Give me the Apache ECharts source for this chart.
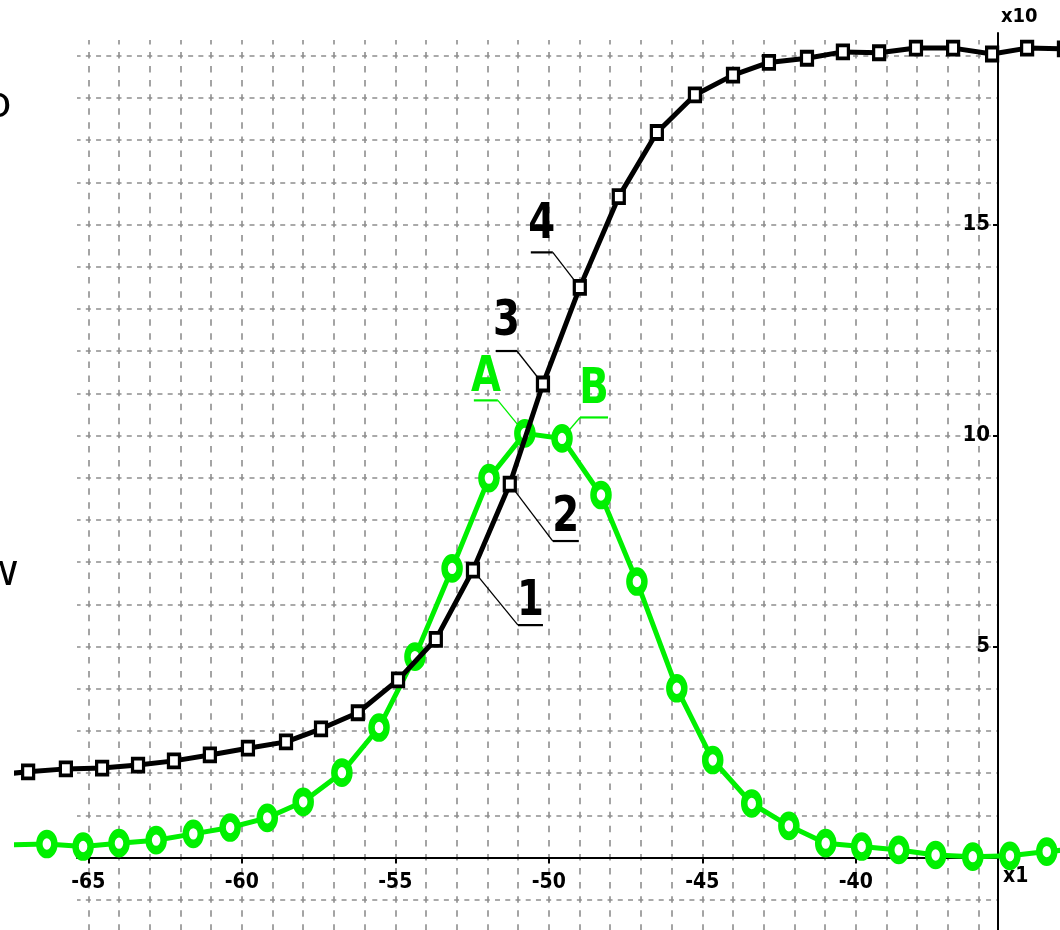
<!DOCTYPE html>
<html>
<head>
<meta charset="utf-8">
<script src="https://cdn.jsdelivr.net/npm/echarts@6/dist/echarts.min.js"></script>
<style>
  html, body { margin: 0; padding: 0; background: #ffffff; }
  #chart { width: 1060px; height: 930px; }
</style>
</head>
<body>
<div id="chart"></div>
<script>
// ---- data -------------------------------------------------------------
// Black curve (square markers), values on the x10 scale
const blackX = [-68.17, -66.96, -65.73, -64.55, -63.38, -62.21, -61.04, -59.80, -58.56, -57.42,
                -56.22, -54.91, -53.68, -52.47, -51.27, -50.19, -48.99, -47.72, -46.48, -45.24,
                -44.00, -42.83, -41.59, -40.42, -39.24, -38.04, -36.83, -35.56, -34.42, -33.22];
const blackY = [1.95, 2.03, 2.10, 2.12, 2.19, 2.29, 2.43, 2.59, 2.74, 3.05,
                3.43, 4.21, 5.17, 6.81, 8.85, 11.22, 13.51, 15.66, 17.18, 18.07,
                18.54, 18.84, 18.94, 19.09, 19.07, 19.18, 19.18, 19.04, 19.18, 19.16];

// Green curve (circle markers)
const greenX = [-67.55, -66.35, -65.17, -64.00, -62.79, -61.58, -60.38, -59.17, -58.00, -56.74,
                -55.53, -54.36, -53.15, -51.95, -50.78, -49.57, -48.30, -47.13, -45.83, -44.66,
                -43.39, -42.18, -40.98, -39.81, -38.60, -37.40, -36.19, -34.98, -33.78, -32.58];
const greenY = [0.30, 0.32, 0.26, 0.34, 0.41, 0.56, 0.71, 0.94, 1.32, 2.01,
                3.08, 4.76, 6.85, 8.99, 10.05, 9.93, 8.59, 6.54, 4.01, 2.31,
                1.28, 0.75, 0.34, 0.26, 0.18, 0.06, 0.02, 0.04, 0.14, 0.22];

// Axis tick labels
const xTickLabels = [-65, -60, -55, -50, -45, -40];
const yTickLabels = [5, 10, 15];

// Numbered / lettered callouts and the points they point at
const blackTags = ['1', '2', '3', '4'];
const blackTagIndex = [13, 14, 15, 16];
const greenTags = ['A', 'B'];
const greenTagIndex = [14, 15];

// ---- layout -----------------------------------------------------------
const GREEN = '#00f000';
const INK = '#000000';
const LABEL_FONT = "'DejaVu Sans Condensed', 'DejaVu Sans', sans-serif";

// pixel scale of the plot: one x unit and one y unit
const X_REF = -65, X_REF_PX = 88.3, X_UNIT_PX = 30.7;
const Y_ZERO_PX = 857.5, Y_UNIT_PX = 42.2;
const xAtPx = px => X_REF + (px - X_REF_PX) / X_UNIT_PX;
const yAtPx = py => (Y_ZERO_PX - py) / Y_UNIT_PX;

// grid rectangles [left, top, right, bottom]
const meshBox = [77, 40, 998, 960];          // dashed mesh
const yAxisBox = [77, 33, 998, 960];         // vertical axis (right edge)
const xAxisBox = [77, 33, 998, Y_ZERO_PX];   // horizontal axis (bottom edge = zero)
const plotBox = [17, 0, 1090, 930];          // curves (clipped here)

const boxGrid = b => ({ left: b[0], top: b[1], width: b[2] - b[0], height: b[3] - b[1],
                        containLabel: false, outerBoundsMode: 'none' });

// leader geometry of each callout: elbow offset from the point, underline length,
// and distance from the underline to the text
const calloutGeom = {
  '1': { dx: 45, dy: 55, len: 25, lift: -2 },
  '2': { dx: 43, dy: 57, len: 26, lift: -2 },
  '3': { dx: -26, dy: -33, len: -21, lift: 4 },
  '4': { dx: -27, dy: -35, len: -22, lift: 3 },
  'A': { dx: -27, dy: -33, len: -24, lift: -2 },
  'B': { dx: 18, dy: -21, len: 28, lift: 3 }
};

const calloutTags = blackTags.concat(greenTags);
const calloutColors = blackTags.map(() => INK).concat(greenTags.map(() => GREEN));
const calloutData = blackTagIndex.map(i => [blackX[i], blackY[i]])
  .concat(greenTagIndex.map(i => [greenX[i], greenY[i]]));

function renderCallout(params, api) {
  const tag = calloutTags[params.dataIndex];
  const color = calloutColors[params.dataIndex];
  const g = calloutGeom[tag];
  const p = api.coord([api.value(0), api.value(1)]);
  const ex = p[0] + g.dx, ey = p[1] + g.dy;
  const ux = ex + g.len;
  return {
    type: 'group',
    children: [
      { type: 'line', shape: { x1: p[0], y1: p[1], x2: ex, y2: ey },
        style: { stroke: color, lineWidth: 1.3 } },
      { type: 'line', shape: { x1: ex, y1: ey, x2: ux, y2: ey },
        style: { stroke: color, lineWidth: 2.2 } },
      { type: 'text', x: (ex + ux) / 2, y: ey - g.lift, scaleY: 1.15,
        style: { text: tag, fill: color, font: "bold 43px " + LABEL_FONT,
                 align: 'center', verticalAlign: 'bottom' } }
    ]
  };
}

const xTickText = { color: INK, fontFamily: LABEL_FONT, fontWeight: 'bold', fontSize: 21 };
const yTickText = { color: INK, fontFamily: LABEL_FONT, fontWeight: 'bold', fontSize: 22 };
const hiddenAxis = { show: false };

const chart = echarts.init(document.getElementById('chart'), null, { renderer: 'canvas' });
chart.setOption({
  animation: false,
  backgroundColor: '#ffffff',
  grid: [boxGrid(meshBox), boxGrid(yAxisBox), boxGrid(xAxisBox), boxGrid(plotBox)],
  xAxis: [
    { // dashed vertical mesh
      gridIndex: 0, type: 'value',
      min: xAtPx(meshBox[0]), max: xAtPx(meshBox[2]),
      minInterval: 1, maxInterval: 1,
      axisLine: { show: false }, axisTick: { show: false }, axisLabel: { show: false },
      splitLine: { show: true, showMinLine: false, showMaxLine: false,
        lineStyle: { color: '#8e8e8e', width: 1.6, type: [6.5, 7.57], dashOffset: 2.1 } }
    },
    { gridIndex: 1, type: 'value', min: xAtPx(yAxisBox[0]), max: xAtPx(yAxisBox[2]), ...hiddenAxis },
    { // horizontal axis: line at zero, labels below
      gridIndex: 2, type: 'value', position: 'bottom',
      min: xAtPx(xAxisBox[0]), max: xAtPx(xAxisBox[2]),
      minInterval: 5, maxInterval: 5,
      axisLine: { show: true, onZero: false, lineStyle: { color: INK, width: 2 } },
      axisTick: { show: true, length: 6, customValues: xTickLabels, lineStyle: { color: INK, width: 2 } },
      axisLabel: { show: true, customValues: xTickLabels, margin: 15,
        formatter: v => (xTickLabels.indexOf(v) >= 0 ? String(v) : ''), ...xTickText },
      splitLine: { show: false },
      name: 'x1', nameLocation: 'end', nameGap: 5,
      nameTextStyle: { ...xTickText, align: 'left', verticalAlign: 'top', padding: [9, 0, 0, 0] }
    },
    { gridIndex: 3, type: 'value', min: xAtPx(plotBox[0]), max: xAtPx(plotBox[2]), ...hiddenAxis }
  ],
  yAxis: [
    { // dashed horizontal mesh
      gridIndex: 0, type: 'value',
      min: yAtPx(meshBox[3]), max: yAtPx(meshBox[1]),
      minInterval: 1, maxInterval: 1,
      axisLine: { show: false }, axisTick: { show: false }, axisLabel: { show: false },
      splitLine: { show: true, showMinLine: false, showMaxLine: false,
        lineStyle: { color: '#8e8e8e', width: 1.6, type: [5, 5.23], dashOffset: 1.4 } }
    },
    { // vertical axis at the right edge, labels on its inner side
      gridIndex: 1, type: 'value', position: 'right',
      min: yAtPx(yAxisBox[3]), max: yAtPx(yAxisBox[1]),
      minInterval: 5, maxInterval: 5,
      axisLine: { show: true, onZero: false, lineStyle: { color: INK, width: 2 } },
      axisTick: { show: true, inside: true, length: 5, customValues: yTickLabels, lineStyle: { color: INK, width: 2 } },
      axisLabel: { show: true, inside: true, customValues: yTickLabels, margin: 8,
        formatter: v => (yTickLabels.indexOf(v) >= 0 ? String(v) : ''), ...yTickText },
      splitLine: { show: false },
      name: 'x10', nameLocation: 'end', nameGap: 16,
      nameTextStyle: { ...xTickText, fontSize: 20, align: 'left', verticalAlign: 'middle', padding: [0, 0, 0, 3] }
    },
    { gridIndex: 2, type: 'value', min: 0, max: 1, ...hiddenAxis },
    { gridIndex: 3, type: 'value', min: yAtPx(plotBox[3]), max: yAtPx(plotBox[1]), ...hiddenAxis }
  ],
  series: [
    {
      type: 'custom', xAxisIndex: 3, yAxisIndex: 3, z: 2, silent: true, clip: false,
      data: calloutData, renderItem: renderCallout
    },
    {
      type: 'line', xAxisIndex: 3, yAxisIndex: 3, z: 3, silent: true, clip: true,
      data: greenX.map((x, i) => [x, greenY[i]]),
      symbol: 'circle', symbolSize: [15, 20], showSymbol: true, showAllSymbol: true,
      lineStyle: { color: GREEN, width: 5 },
      itemStyle: { color: '#ffffff', borderColor: GREEN, borderWidth: 7.5 },
      emphasis: { disabled: true }
    },
    {
      type: 'line', xAxisIndex: 3, yAxisIndex: 3, z: 4, silent: true, clip: true,
      data: blackX.map((x, i) => [x, blackY[i]]),
      symbol: 'rect', symbolSize: [11, 13], showSymbol: true, showAllSymbol: true,
      lineStyle: { color: INK, width: 5 },
      itemStyle: { color: '#ffffff', borderColor: INK, borderWidth: 3.5 },
      emphasis: { disabled: true }
    }
  ],
  graphic: [
    // ends of words running in from the left margin
    { type: 'text', x: -15, y: 104, silent: true,
      style: { text: 'o', font: "44px 'Noto Sans', sans-serif", fill: '#000', verticalAlign: 'middle' } },
    { type: 'text', x: -17, y: 572, silent: true,
      style: { text: 'w', font: "44px 'Noto Sans', sans-serif", fill: '#000', verticalAlign: 'middle' } }
  ]
});
</script>
</body>
</html>
